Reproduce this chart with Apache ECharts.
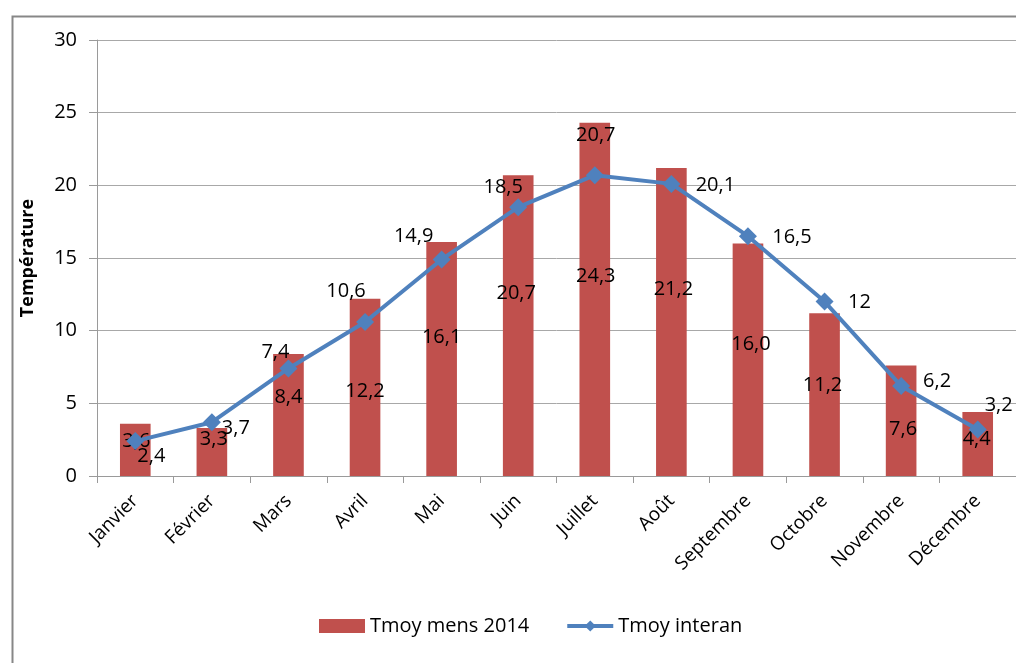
<!DOCTYPE html>
<html>
<head>
<meta charset="utf-8">
<script src="https://cdn.jsdelivr.net/npm/echarts@6/dist/echarts.min.js"></script>
<style>
  html, body { margin: 0; padding: 0; background: #fff; }
  #chart { width: 1016px; height: 663px; }
</style>
</head>
<body>
<div id="chart"></div>
<script>
// Monthly mean temperatures
const months = ['Janvier', 'Février', 'Mars', 'Avril', 'Mai', 'Juin', 'Juillet', 'Août', 'Septembre', 'Octobre', 'Novembre', 'Décembre'];
const tmoyMens2014 = [3.6, 3.3, 8.4, 12.2, 16.1, 20.7, 24.3, 21.2, 16.0, 11.2, 7.6, 4.4];
const tmoyInteran = [2.4, 3.7, 7.4, 10.6, 14.9, 18.5, 20.7, 20.1, 16.5, 12, 6.2, 3.2];
const yTicks = [0, 5, 10, 15, 20, 25, 30];

// Hand-placed label offsets (px): bars measured from the bar top, line from the marker centre
const barLabelShift = [[1, 18], [2, 11], [0, 43], [0, 93], [0, 95], [-2, 118], [1, 153], [2, 121], [3, 101], [-2, 72], [2, 64], [-1, 27]];
const lineLabelShift = [[16, 15], [24, 6], [-13, -16], [-19, -31], [-28, -23], [-15, -20], [1, -40], [44, 1], [44, 1], [35, 1], [36, -5], [21, -24]];

const FONT = '"Open Sans", Lato, sans-serif';
const comma = s => s.replace('.', ',');

const barData = tmoyMens2014.map((v, i) => ({
  value: v,
  label: {
    position: ['50%', 0],
    align: 'center',
    verticalAlign: 'middle',
    offset: barLabelShift[i]
  }
}));

const chart = echarts.init(document.getElementById('chart'), null, { renderer: 'canvas' });

chart.setOption({
  animation: false,
  backgroundColor: '#ffffff',
  textStyle: { fontFamily: FONT },
  graphic: [{
    type: 'rect',
    left: 10, top: 14,
    shape: { width: 1100, height: 700 },
    style: { fill: 'none', stroke: '#878787', lineWidth: 2 },
    z: -10
  }],
  grid: { left: 97, right: -8, top: 40, bottom: 187, containLabel: false },
  legend: {
    bottom: 22,
    left: 314,
    itemWidth: 46,
    itemHeight: 14,
    itemGap: 36,
    textStyle: { fontFamily: FONT, fontSize: 20, color: '#000' },
    data: [
      { name: 'Tmoy mens 2014', icon: 'rect' },
      { name: 'Tmoy interan', lineStyle: { width: 4 } }
    ]
  },
  xAxis: {
    type: 'category',
    data: months,
    boundaryGap: true,
    axisLine: { lineStyle: { color: '#9a9a9a', width: 1 } },
    axisTick: { show: true, length: 7, alignWithLabel: false, lineStyle: { color: '#9a9a9a' } },
    axisLabel: { rotate: 45, fontSize: 19, color: '#000', fontFamily: FONT, margin: 22, interval: 0 }
  },
  yAxis: {
    type: 'value',
    min: yTicks[0],
    max: yTicks[yTicks.length - 1],
    interval: yTicks[1] - yTicks[0],
    name: 'Température',
    nameLocation: 'middle',
    nameGap: 60,
    nameTextStyle: { fontSize: 18, fontWeight: 'bold', color: '#000', fontFamily: FONT },
    axisLine: { show: true, lineStyle: { color: '#9a9a9a', width: 1 } },
    axisTick: { show: true, length: 8, lineStyle: { color: '#9a9a9a' } },
    axisLabel: { fontSize: 20, color: '#000', fontFamily: FONT, margin: 20 },
    splitLine: { lineStyle: { color: '#a8a8a8', width: 1 } }
  },
  series: [
    {
      name: 'Tmoy mens 2014',
      type: 'bar',
      data: barData,
      barWidth: '40%',
      itemStyle: { color: '#C0504D' },
      label: {
        show: true,
        fontSize: 20,
        color: '#000',
        fontFamily: FONT,
        formatter: p => comma(p.value.toFixed(1))
      },
      z: 2
    },
    {
      name: 'Tmoy interan',
      type: 'line',
      data: tmoyInteran,
      symbol: 'diamond',
      symbolSize: 18,
      lineStyle: { color: '#4F81BD', width: 4 },
      itemStyle: { color: '#4F81BD' },
      label: {
        show: true,
        position: 'inside',
        align: 'center',
        verticalAlign: 'middle',
        fontSize: 20,
        color: '#000',
        fontFamily: FONT,
        formatter: p => comma(String(p.value))
      },
      labelLayout: p => ({
        dx: lineLabelShift[p.dataIndex][0],
        dy: lineLabelShift[p.dataIndex][1],
        hideOverlap: false
      }),
      z: 3
    }
  ]
});
</script>
</body>
</html>
